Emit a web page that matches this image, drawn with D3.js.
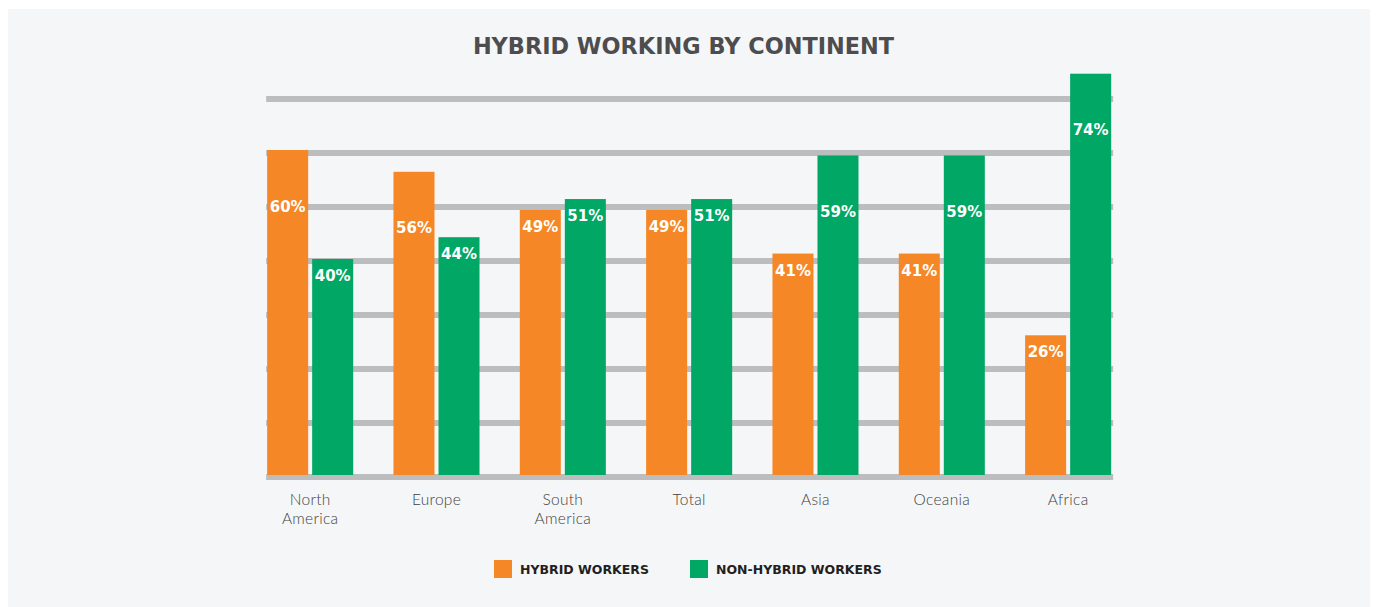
<!DOCTYPE html>
<html>
<head>
<meta charset="utf-8">
<script src="https://cdn.jsdelivr.net/npm/d3@7"></script>
<style>
  html, body { margin: 0; padding: 0; background: #fff; }
  svg { display: block; }
</style>
</head>
<body>
<svg width="1377" height="607"></svg>
<script>
var categories = ["North America", "Europe", "South America", "Total", "Asia", "Oceania", "Africa"];
var hybrid = [60, 56, 49, 49, 41, 41, 26];
var nonHybrid = [40, 44, 51, 51, 59, 59, 74];
var seriesNames = ["HYBRID WORKERS", "NON-HYBRID WORKERS"];
var seriesColors = ["#f58727", "#00a765"];
var gridSteps = d3.range(8);

var svg = d3.select("svg");

svg.append("rect")
    .attr("x", 8).attr("y", 9)
    .attr("width", 1362).attr("height", 598)
    .attr("fill", "#f5f6f8");

svg.append("text")
    .attr("x", 683.5).attr("y", 53.5)
    .attr("text-anchor", "middle")
    .style("font-family", "DejaVu Sans")
    .style("font-weight", "bold")
    .style("font-size", "22.4px")
    .attr("fill", "#4d4d4f")
    .text("HYBRID WORKING BY CONTINENT");

var x0 = d3.scaleBand()
    .domain(categories)
    .range([247, 1131.3])
    .paddingInner(0.319)
    .paddingOuter(0.1595);

var x1 = d3.scaleBand()
    .domain([0, 1])
    .range([0, x0.bandwidth()])
    .paddingInner(0.089);

var y = d3.scaleLinear().domain([0, 100]).range([477, -68]);
var gridY = d3.scaleLinear().domain([0, 7]).range([477, 99]);

var gx1 = x0(categories[0]) - 1,
    gx2 = x0(categories[categories.length - 1]) + x0.bandwidth() + 2;

svg.append("g").selectAll("line")
    .data(gridSteps)
    .enter().append("line")
    .attr("x1", gx1).attr("x2", gx2)
    .attr("y1", function(d) { return gridY(d); })
    .attr("y2", function(d) { return gridY(d); })
    .attr("stroke", "#bcbdbf")
    .attr("stroke-width", 6);

var rows = categories.map(function(c, i) {
  return { cat: c, vals: [hybrid[i], nonHybrid[i]] };
});

var groups = svg.append("g").selectAll("g")
    .data(rows)
    .enter().append("g")
    .attr("transform", function(d) { return "translate(" + x0(d.cat) + ",0)"; });

var cells = groups.selectAll("g")
    .data(function(d) { return d.vals.map(function(v, k) { return { k: k, v: v }; }); })
    .enter().append("g");

cells.append("rect")
    .attr("x", function(d) { return x1(d.k); })
    .attr("y", function(d) { return y(d.v); })
    .attr("width", x1.bandwidth())
    .attr("height", function(d) { return 475 - y(d.v); })
    .attr("fill", function(d) { return seriesColors[d.k]; });

cells.append("text")
    .attr("x", function(d) { return x1(d.k) + x1.bandwidth() / 2; })
    .attr("y", function(d) { return y(d.v) + (d.v >= 55 ? 56 : 16.5) + 5.5; })
    .attr("text-anchor", "middle")
    .style("font-family", "DejaVu Sans")
    .style("font-weight", "bold")
    .style("font-size", "15px")
    .attr("fill", "#fff")
    .text(function(d) { return d.v + "%"; });

// category labels, one text per word so two-word names sit on two lines
var labelLines = [];
categories.forEach(function(c) {
  c.split(" ").forEach(function(w, i) { labelLines.push({ cat: c, word: w, line: i }); });
});

svg.append("g").selectAll("text")
    .data(labelLines)
    .enter().append("text")
    .attr("x", function(d) { return x0(d.cat) + x0.bandwidth() / 2; })
    .attr("y", function(d) { return 505 + d.line * 19; })
    .attr("text-anchor", "middle")
    .style("font-family", "Lato")
    .style("font-weight", 300)
    .style("font-size", "15.5px")
    .style("letter-spacing", "0.3px")
    .attr("fill", "#3f3f41")
    .text(function(d) { return d.word; });

var legendX = [494, 690];
var legend = svg.append("g").selectAll("g")
    .data(seriesNames)
    .enter().append("g")
    .attr("transform", function(d, i) { return "translate(" + legendX[i] + ",560)"; });

legend.append("rect")
    .attr("width", 18).attr("height", 18)
    .attr("fill", function(d, i) { return seriesColors[i]; });

legend.append("text")
    .attr("x", 26).attr("y", 14)
    .style("font-family", "DejaVu Sans")
    .style("font-weight", "bold")
    .style("font-size", "12.5px")
    .attr("fill", "#231f20")
    .text(function(d) { return d; });
</script>
</body>
</html>
